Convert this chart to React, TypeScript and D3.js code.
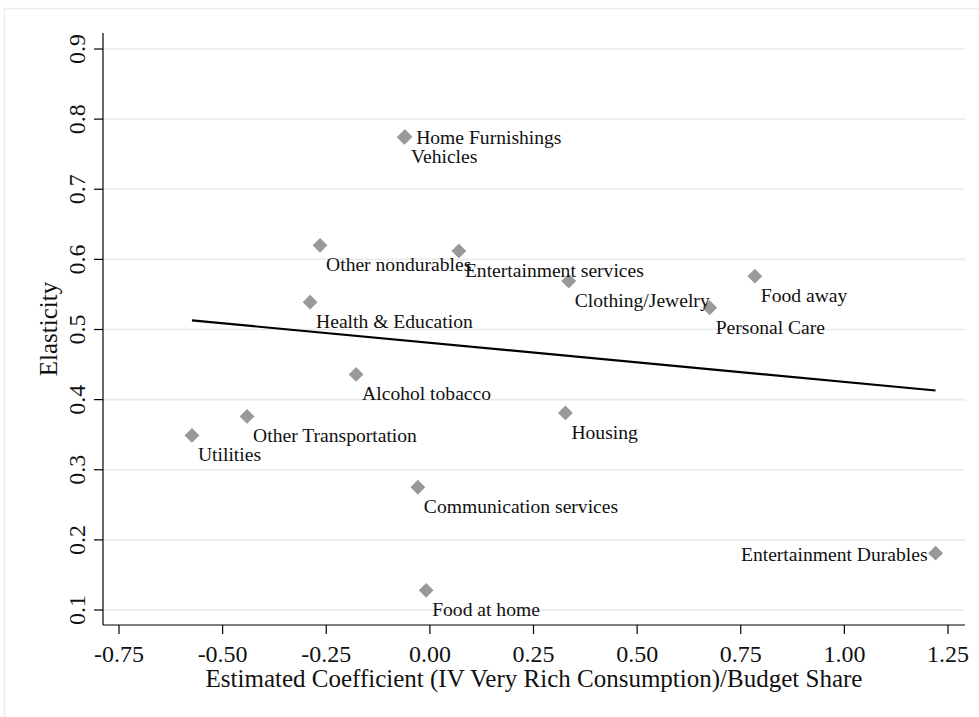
import React from "react";
import * as d3 from "d3";

const categories = [
  "Home Furnishings", "Vehicles", "Other nondurables", "Entertainment services",
  "Clothing/Jewelry", "Food away", "Personal Care", "Health & Education",
  "Alcohol tobacco", "Housing", "Other Transportation", "Utilities",
  "Communication services", "Food at home", "Entertainment Durables",
];
const coefValues = [-0.062, -0.060, -0.265, 0.070, 0.335, 0.784, 0.675, -0.289, -0.178, 0.327, -0.441, -0.574, -0.029, -0.009, 1.220];
const elasticityValues = [0.774, 0.775, 0.620, 0.612, 0.569, 0.576, 0.531, 0.539, 0.436, 0.381, 0.376, 0.349, 0.275, 0.128, 0.181];
// label clock position (Stata style): 3 = right, 4 = below right, 9 = left
const labelPositions = [3, 4, 4, 4, 4, 4, 4, 4, 4, 4, 4, 4, 4, 4, 9];
const fitX = [-0.574, 1.22];
const fitY = [0.513, 0.413];
const xTicks = [-0.75, -0.5, -0.25, 0, 0.25, 0.5, 0.75, 1.0, 1.25];
const yTicks = [0.1, 0.2, 0.3, 0.4, 0.5, 0.6, 0.7, 0.8, 0.9];
const xTitle = "Estimated Coefficient (IV Very Rich Consumption)/Budget Share";
const yTitle = "Elasticity";

const W = 979, H = 717;
const plotLeft = 103, plotRight = 965, plotTop = 33, plotBottom = 625;
const FONT = "'Liberation Serif', 'Times New Roman', serif";
const fmtX = (t: number) => d3.format(".2f")(t).replace("\u2212", "-");
const fmtY = (t: number) => d3.format(".1f")(t).replace("\u2212", "-");

export default function App() {
  const x = d3.scaleLinear().domain([-0.75, 1.25]).range([119, 948]);
  const y = d3.scaleLinear().domain([0.1, 0.9]).range([610, 49]);
  const line = d3.line<number>().x((d, i) => x(fitX[i])).y((d, i) => y(fitY[i]));
  const diamond = d3.symbol().type(d3.symbolDiamond2).size(140)();

  return (
    <svg width={W} height={H} style={{ position: "absolute", left: 0, top: 0, background: "#fff" }}>
      <rect x={0} y={0} width={W} height={H} fill="#fff" />
      <rect x={4.5} y={8.5} width={W + 10} height={H + 10} fill="none" stroke="#ececec" strokeWidth={1.5} />
      {/* gridlines */}
      {yTicks.map((t) => (
        <line key={"g" + t} x1={plotLeft} x2={plotRight} y1={y(t)} y2={y(t)} stroke="#eaeaea" strokeWidth={1.6} />
      ))}
      {/* axes */}
      <line x1={plotLeft} x2={plotLeft} y1={plotTop} y2={plotBottom} stroke="#000" strokeWidth={1.2} />
      <line x1={plotLeft} x2={plotRight} y1={plotBottom} y2={plotBottom} stroke="#000" strokeWidth={1.2} />
      {yTicks.map((t) => (
        <g key={"yt" + t}>
          <line x1={plotLeft - 9} x2={plotLeft} y1={y(t)} y2={y(t)} stroke="#000" strokeWidth={1.2} />
          <text
            transform={`translate(${85},${y(t)}) rotate(-90)`}
            textAnchor="middle"
            fontFamily={FONT}
            fontSize={24}
            fill="#111"
          >
            {fmtY(t)}
          </text>
        </g>
      ))}
      {xTicks.map((t) => (
        <g key={"xt" + t}>
          <line x1={x(t)} x2={x(t)} y1={plotBottom} y2={plotBottom + 9} stroke="#000" strokeWidth={1.2} />
          <text x={x(t)} y={662} textAnchor="middle" fontFamily={FONT} fontSize={24} fill="#111">
            {fmtX(t)}
          </text>
        </g>
      ))}
      <text x={(plotLeft + plotRight) / 2} y={687} textAnchor="middle" fontFamily={FONT} fontSize={25} fill="#111">
        {xTitle}
      </text>
      <text
        transform={`translate(${57},${(plotTop + plotBottom) / 2}) rotate(-90)`}
        textAnchor="middle"
        fontFamily={FONT}
        fontSize={25}
        fill="#111"
      >
        {yTitle}
      </text>
      {/* fit line */}
      <path d={line(fitX) || ""} fill="none" stroke="#000" strokeWidth={2.2} />
      {/* points */}
      {categories.map((c, i) => (
        <path key={"p" + c} d={diamond || ""} transform={`translate(${x(coefValues[i])},${y(elasticityValues[i])})`} fill="#999" />
      ))}
      {/* labels */}
      {categories.map((c, i) => {
        const px = x(coefValues[i]);
        const py = y(elasticityValues[i]);
        const pos = labelPositions[i];
        let tx = px + 6, ty = py + 26, anchor = "start";
        if (pos === 3) { tx = px + 12; ty = py + 6.5; }
        if (pos === 9) { tx = px - 8; ty = py + 7.5; anchor = "end"; }
        return (
          <text key={"l" + c} x={tx} y={ty} textAnchor={anchor} fontFamily={FONT} fontSize={19.6} fill="#111">
            {c}
          </text>
        );
      })}
    </svg>
  );
}
